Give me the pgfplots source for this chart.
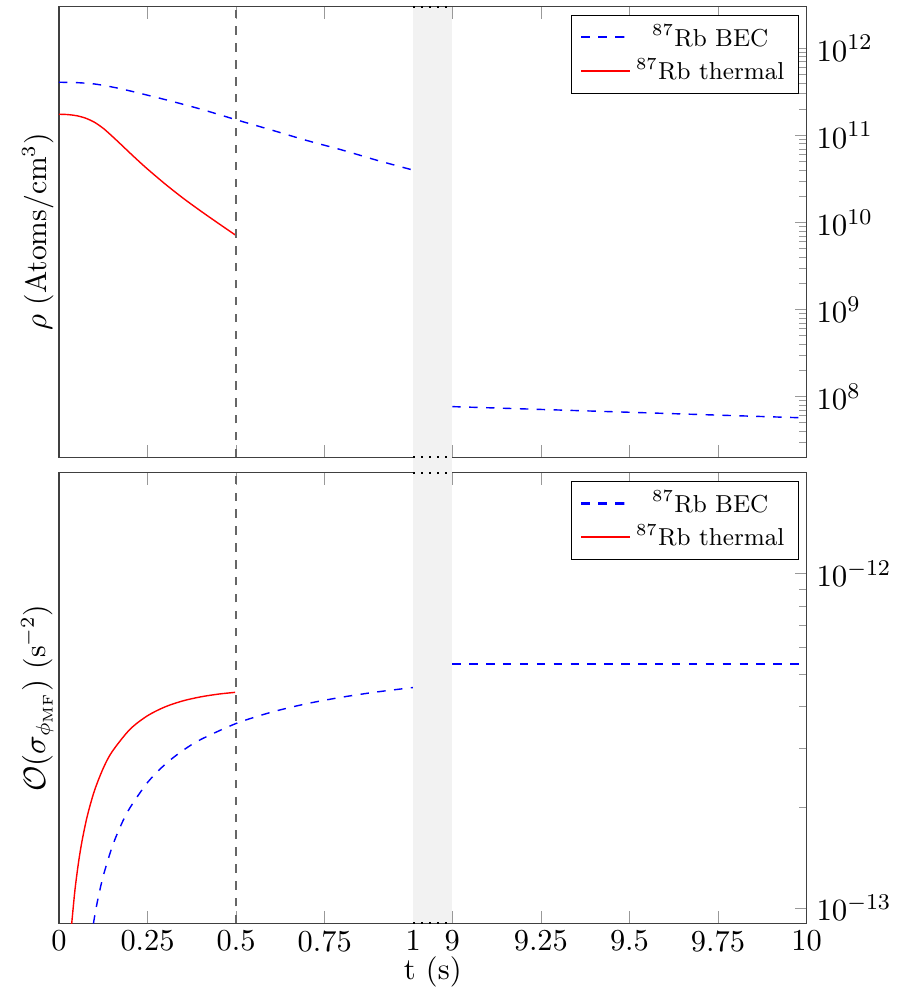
\documentclass[border=0pt]{standalone}
\usepackage{pgfplots}
\pgfplotsset{compat=1.18}
\usetikzlibrary{calc}
\definecolor{becblue}{rgb}{0,0,1}
\definecolor{thred}{rgb}{1,0,0}
\begin{document}
\begin{tikzpicture}
\begin{axis}[name=top,
    width=265.5pt, height=160pt, scale only axis,
    xmin=0, xmax=2.11,
    ymode=log,
    x filter/.expression={x>5 ? x-7.89 : x},
    xtick={0,0.25,0.5,0.75,1,1.11,1.36,1.61,1.86,2.11},
    ytick pos=right, yticklabel pos=right,
    tick style={black!40},
    axis line style={black!75},
    xticklabel style={font=\fontsize{10.8}{13}\selectfont, yshift=1pt},
    yticklabel style={font=\fontsize{10.8}{13}\selectfont},
    xlabel style={font=\fontsize{10.8}{13}\selectfont, yshift=5pt},
    ylabel style={font=\fontsize{10.5}{12.6}\selectfont, at={(rel axis cs:0.006,0.5)}, anchor=south},
    legend style={at={(0.99,0.982)}, anchor=north east, font=\fontsize{8.7}{10.4}\selectfont, inner ysep=1.2pt, row sep=-1.2pt},
    legend image post style={line width=0.8pt},
    legend cell align=center,
  ymin=2e7, ymax=3e12,
  xticklabels={},
  ylabel={$\rho$ (Atoms/cm$^3$)},
]
\addplot[becblue, dashed, line width=0.5pt, smooth] coordinates {
(0,4.07e11) (0.05,4.03e11) (0.1,3.89e11) (0.15,3.59e11) (0.2,3.24e11) (0.3,2.57e11)
(0.4,2.0e11) (0.5,1.51e11) (0.6,1.15e11) (0.7,8.71e10) (0.8,6.76e10) (0.9,5.13e10) (1.0,3.98e10)};
\addlegendentry{$^{87}$Rb BEC}
\addplot[thred, line width=0.5pt, smooth] coordinates {
(0,1.746e11) (0.025,1.730e11) (0.05,1.679e11) (0.075,1.574e11) (0.1,1.413e11) (0.125,1.202e11)
(0.15,9.77e10) (0.175,7.85e10) (0.2,6.28e10) (0.225,5.05e10) (0.25,4.09e10) (0.3,2.75e10)
(0.35,1.90e10) (0.4,1.35e10) (0.45,9.73e9) (0.497,7.19e9)};
\addlegendentry{$^{87}$Rb thermal}
\addplot[becblue, dashed, line width=0.5pt, forget plot] coordinates {
(9,7.64e7) (9.25,7.09e7) (9.5,6.58e7) (9.75,6.10e7) (10,5.66e7)};
\draw[black!60, thick, dashed] (rel axis cs:0.236967,0) -- (rel axis cs:0.236967,1);
\end{axis}
\begin{axis}[name=bot,
  at={($(top.south west)-(0,5.5pt)$)}, anchor=north west,
    width=265.5pt, height=160pt, scale only axis,
    xmin=0, xmax=2.11,
    ymode=log,
    x filter/.expression={x>5 ? x-7.89 : x},
    xtick={0,0.25,0.5,0.75,1,1.11,1.36,1.61,1.86,2.11},
    ytick pos=right, yticklabel pos=right,
    tick style={black!40},
    axis line style={black!75},
    xticklabel style={font=\fontsize{10.8}{13}\selectfont, yshift=1pt},
    yticklabel style={font=\fontsize{10.8}{13}\selectfont},
    xlabel style={font=\fontsize{10.8}{13}\selectfont, yshift=5pt},
    ylabel style={font=\fontsize{10.5}{12.6}\selectfont, at={(rel axis cs:0.006,0.5)}, anchor=south},
    legend style={at={(0.99,0.982)}, anchor=north east, font=\fontsize{8.7}{10.4}\selectfont, inner ysep=1.2pt, row sep=-1.2pt},
    legend image post style={line width=0.8pt},
    legend cell align=center,
  ymin=9e-14, ymax=2e-12,
  xticklabels={0,0.25,0.5,0.75,1,9,9.25,9.5,9.75,10},
  xlabel={t (s)},
  ylabel={$\mathcal{O}(\sigma_{\phi_{\mathrm{MF}}})$ (s$^{-2}$)},
]
\addplot[becblue, dashed, line width=0.5pt, smooth] coordinates {
(0.09,8.01e-14) (0.1,9.37e-14) (0.11,1.066e-13) (0.125,1.248e-13) (0.15,1.524e-13) (0.175,1.770e-13)
(0.2,1.992e-13) (0.25,2.374e-13) (0.3,2.692e-13) (0.35,2.960e-13) (0.4,3.190e-13) (0.5,3.563e-13)
(0.6,3.852e-13) (0.7,4.084e-13) (0.8,4.272e-13) (0.9,4.430e-13) (1.0,4.563e-13)};
\addlegendentry{$^{87}$Rb BEC}
\addplot[thred, line width=0.5pt, smooth] coordinates {
(0.035,8.78e-14) (0.045,1.131e-13) (0.055,1.366e-13) (0.065,1.586e-13) (0.08,1.887e-13) (0.1,2.242e-13)
(0.125,2.619e-13) (0.15,2.935e-13) (0.2,3.420e-13) (0.25,3.759e-13) (0.3,3.997e-13) (0.35,4.163e-13)
(0.4,4.279e-13) (0.45,4.361e-13) (0.497,4.414e-13)};
\addlegendentry{$^{87}$Rb thermal}
\addplot[becblue, dashed, line width=0.5pt, forget plot] coordinates {(9,5.37e-13) (9.5,5.37e-13) (10,5.37e-13)};
\draw[black!60, thick, dashed] (rel axis cs:0.236967,0) -- (rel axis cs:0.236967,1);
\end{axis}
\fill[gray!10] ($(top.north west)!0.473934!(top.north east)$) rectangle ($(bot.south west)!0.526066!(bot.south east)$);
\draw[line width=0.7pt, dash pattern=on 0.7pt off 2.15pt] ($(top.north west)!0.473934!(top.north east)$) -- ($(top.north west)!0.526066!(top.north east)$);
\draw[line width=0.7pt, dash pattern=on 0.7pt off 2.15pt] ($(top.south west)!0.473934!(top.south east)$) -- ($(top.south west)!0.526066!(top.south east)$);
\draw[line width=0.7pt, dash pattern=on 0.7pt off 2.15pt] ($(bot.north west)!0.473934!(bot.north east)$) -- ($(bot.north west)!0.526066!(bot.north east)$);
\draw[line width=0.7pt, dash pattern=on 0.7pt off 2.15pt] ($(bot.south west)!0.473934!(bot.south east)$) -- ($(bot.south west)!0.526066!(bot.south east)$);
\pgfresetboundingbox
\path[use as bounding box] ($(top.north west)+(-20.95pt,2.4pt)$) rectangle ($(bot.south east)+(32.3pt,-24.75pt)$);
\end{tikzpicture}
\end{document}
